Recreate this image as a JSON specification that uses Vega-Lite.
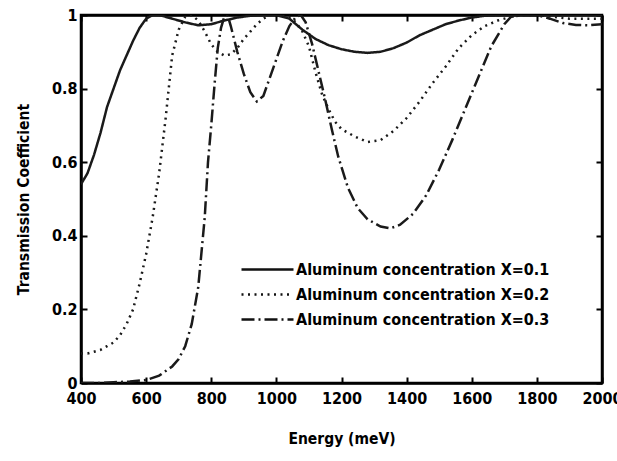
{
  "$schema": "https://vega.github.io/schema/vega-lite/v6.json",
  "width": 521,
  "height": 368,
  "autosize": "none",
  "padding": {"left": 81, "top": 15, "right": 15, "bottom": 78},
  "background": "white",
  "config": {
    "view": {"stroke": "black", "strokeWidth": 2.5},
    "font": "DejaVu Sans Condensed, Liberation Sans, sans-serif",
    "axis": {"grid": false, "domainColor": "black", "domainWidth": 2.5, "tickColor": "black", "tickWidth": 2, "tickSize": -6, "labelFont": "DejaVu Sans Condensed, Liberation Sans, sans-serif", "labelFontWeight": "bold", "labelFontSize": 16, "labelColor": "black", "labelFlush": false, "labelOverlap": false, "titleFont": "DejaVu Sans Condensed, Liberation Sans, sans-serif", "titleFontWeight": "bold", "titleFontSize": 15.5, "titleColor": "black"},
    "legend": {"labelFont": "DejaVu Sans Condensed, Liberation Sans, sans-serif"}
  },
  "data": {"values": [
    {"E":400,"T":0.54,"s":"Aluminum concentration X=0.1"},
    {"E":420,"T":0.57,"s":"Aluminum concentration X=0.1"},
    {"E":440,"T":0.62,"s":"Aluminum concentration X=0.1"},
    {"E":460,"T":0.68,"s":"Aluminum concentration X=0.1"},
    {"E":480,"T":0.75,"s":"Aluminum concentration X=0.1"},
    {"E":500,"T":0.8,"s":"Aluminum concentration X=0.1"},
    {"E":520,"T":0.85,"s":"Aluminum concentration X=0.1"},
    {"E":540,"T":0.89,"s":"Aluminum concentration X=0.1"},
    {"E":560,"T":0.93,"s":"Aluminum concentration X=0.1"},
    {"E":580,"T":0.965,"s":"Aluminum concentration X=0.1"},
    {"E":600,"T":0.99,"s":"Aluminum concentration X=0.1"},
    {"E":620,"T":1.0,"s":"Aluminum concentration X=0.1"},
    {"E":640,"T":1.0,"s":"Aluminum concentration X=0.1"},
    {"E":680,"T":0.99,"s":"Aluminum concentration X=0.1"},
    {"E":720,"T":0.98,"s":"Aluminum concentration X=0.1"},
    {"E":760,"T":0.972,"s":"Aluminum concentration X=0.1"},
    {"E":800,"T":0.975,"s":"Aluminum concentration X=0.1"},
    {"E":840,"T":0.985,"s":"Aluminum concentration X=0.1"},
    {"E":880,"T":0.993,"s":"Aluminum concentration X=0.1"},
    {"E":920,"T":0.998,"s":"Aluminum concentration X=0.1"},
    {"E":960,"T":1.0,"s":"Aluminum concentration X=0.1"},
    {"E":1000,"T":1.0,"s":"Aluminum concentration X=0.1"},
    {"E":1040,"T":0.99,"s":"Aluminum concentration X=0.1"},
    {"E":1080,"T":0.96,"s":"Aluminum concentration X=0.1"},
    {"E":1120,"T":0.935,"s":"Aluminum concentration X=0.1"},
    {"E":1160,"T":0.918,"s":"Aluminum concentration X=0.1"},
    {"E":1200,"T":0.907,"s":"Aluminum concentration X=0.1"},
    {"E":1240,"T":0.9,"s":"Aluminum concentration X=0.1"},
    {"E":1280,"T":0.897,"s":"Aluminum concentration X=0.1"},
    {"E":1320,"T":0.9,"s":"Aluminum concentration X=0.1"},
    {"E":1360,"T":0.91,"s":"Aluminum concentration X=0.1"},
    {"E":1400,"T":0.925,"s":"Aluminum concentration X=0.1"},
    {"E":1440,"T":0.945,"s":"Aluminum concentration X=0.1"},
    {"E":1480,"T":0.96,"s":"Aluminum concentration X=0.1"},
    {"E":1520,"T":0.975,"s":"Aluminum concentration X=0.1"},
    {"E":1560,"T":0.985,"s":"Aluminum concentration X=0.1"},
    {"E":1600,"T":0.993,"s":"Aluminum concentration X=0.1"},
    {"E":1640,"T":0.998,"s":"Aluminum concentration X=0.1"},
    {"E":1700,"T":1.0,"s":"Aluminum concentration X=0.1"},
    {"E":1800,"T":1.0,"s":"Aluminum concentration X=0.1"},
    {"E":1900,"T":1.0,"s":"Aluminum concentration X=0.1"},
    {"E":2000,"T":1.0,"s":"Aluminum concentration X=0.1"},

    {"E":400,"T":0.08,"s":"Aluminum concentration X=0.2"},
    {"E":420,"T":0.08,"s":"Aluminum concentration X=0.2"},
    {"E":440,"T":0.085,"s":"Aluminum concentration X=0.2"},
    {"E":460,"T":0.09,"s":"Aluminum concentration X=0.2"},
    {"E":480,"T":0.1,"s":"Aluminum concentration X=0.2"},
    {"E":500,"T":0.11,"s":"Aluminum concentration X=0.2"},
    {"E":520,"T":0.13,"s":"Aluminum concentration X=0.2"},
    {"E":540,"T":0.16,"s":"Aluminum concentration X=0.2"},
    {"E":560,"T":0.2,"s":"Aluminum concentration X=0.2"},
    {"E":580,"T":0.27,"s":"Aluminum concentration X=0.2"},
    {"E":600,"T":0.35,"s":"Aluminum concentration X=0.2"},
    {"E":620,"T":0.45,"s":"Aluminum concentration X=0.2"},
    {"E":640,"T":0.57,"s":"Aluminum concentration X=0.2"},
    {"E":660,"T":0.72,"s":"Aluminum concentration X=0.2"},
    {"E":680,"T":0.89,"s":"Aluminum concentration X=0.2"},
    {"E":700,"T":0.96,"s":"Aluminum concentration X=0.2"},
    {"E":720,"T":0.995,"s":"Aluminum concentration X=0.2"},
    {"E":740,"T":1.0,"s":"Aluminum concentration X=0.2"},
    {"E":760,"T":0.985,"s":"Aluminum concentration X=0.2"},
    {"E":780,"T":0.955,"s":"Aluminum concentration X=0.2"},
    {"E":800,"T":0.92,"s":"Aluminum concentration X=0.2"},
    {"E":820,"T":0.9,"s":"Aluminum concentration X=0.2"},
    {"E":840,"T":0.89,"s":"Aluminum concentration X=0.2"},
    {"E":860,"T":0.893,"s":"Aluminum concentration X=0.2"},
    {"E":880,"T":0.91,"s":"Aluminum concentration X=0.2"},
    {"E":900,"T":0.935,"s":"Aluminum concentration X=0.2"},
    {"E":920,"T":0.955,"s":"Aluminum concentration X=0.2"},
    {"E":940,"T":0.975,"s":"Aluminum concentration X=0.2"},
    {"E":960,"T":0.99,"s":"Aluminum concentration X=0.2"},
    {"E":980,"T":1.0,"s":"Aluminum concentration X=0.2"},
    {"E":1000,"T":1.0,"s":"Aluminum concentration X=0.2"},
    {"E":1040,"T":0.995,"s":"Aluminum concentration X=0.2"},
    {"E":1060,"T":0.98,"s":"Aluminum concentration X=0.2"},
    {"E":1080,"T":0.955,"s":"Aluminum concentration X=0.2"},
    {"E":1100,"T":0.915,"s":"Aluminum concentration X=0.2"},
    {"E":1120,"T":0.845,"s":"Aluminum concentration X=0.2"},
    {"E":1140,"T":0.785,"s":"Aluminum concentration X=0.2"},
    {"E":1160,"T":0.745,"s":"Aluminum concentration X=0.2"},
    {"E":1180,"T":0.71,"s":"Aluminum concentration X=0.2"},
    {"E":1200,"T":0.69,"s":"Aluminum concentration X=0.2"},
    {"E":1240,"T":0.67,"s":"Aluminum concentration X=0.2"},
    {"E":1280,"T":0.655,"s":"Aluminum concentration X=0.2"},
    {"E":1320,"T":0.66,"s":"Aluminum concentration X=0.2"},
    {"E":1360,"T":0.685,"s":"Aluminum concentration X=0.2"},
    {"E":1400,"T":0.72,"s":"Aluminum concentration X=0.2"},
    {"E":1440,"T":0.765,"s":"Aluminum concentration X=0.2"},
    {"E":1480,"T":0.815,"s":"Aluminum concentration X=0.2"},
    {"E":1520,"T":0.86,"s":"Aluminum concentration X=0.2"},
    {"E":1560,"T":0.91,"s":"Aluminum concentration X=0.2"},
    {"E":1600,"T":0.945,"s":"Aluminum concentration X=0.2"},
    {"E":1640,"T":0.97,"s":"Aluminum concentration X=0.2"},
    {"E":1680,"T":0.985,"s":"Aluminum concentration X=0.2"},
    {"E":1720,"T":0.995,"s":"Aluminum concentration X=0.2"},
    {"E":1760,"T":1.0,"s":"Aluminum concentration X=0.2"},
    {"E":1800,"T":1.0,"s":"Aluminum concentration X=0.2"},
    {"E":1850,"T":0.995,"s":"Aluminum concentration X=0.2"},
    {"E":1900,"T":0.99,"s":"Aluminum concentration X=0.2"},
    {"E":1950,"T":0.99,"s":"Aluminum concentration X=0.2"},
    {"E":2000,"T":0.99,"s":"Aluminum concentration X=0.2"},

    {"E":400,"T":0.0,"s":"Aluminum concentration X=0.3"},
    {"E":450,"T":0.0,"s":"Aluminum concentration X=0.3"},
    {"E":500,"T":0.002,"s":"Aluminum concentration X=0.3"},
    {"E":550,"T":0.004,"s":"Aluminum concentration X=0.3"},
    {"E":600,"T":0.008,"s":"Aluminum concentration X=0.3"},
    {"E":640,"T":0.02,"s":"Aluminum concentration X=0.3"},
    {"E":680,"T":0.045,"s":"Aluminum concentration X=0.3"},
    {"E":700,"T":0.065,"s":"Aluminum concentration X=0.3"},
    {"E":720,"T":0.1,"s":"Aluminum concentration X=0.3"},
    {"E":740,"T":0.16,"s":"Aluminum concentration X=0.3"},
    {"E":760,"T":0.26,"s":"Aluminum concentration X=0.3"},
    {"E":780,"T":0.45,"s":"Aluminum concentration X=0.3"},
    {"E":790,"T":0.6,"s":"Aluminum concentration X=0.3"},
    {"E":800,"T":0.7,"s":"Aluminum concentration X=0.3"},
    {"E":810,"T":0.81,"s":"Aluminum concentration X=0.3"},
    {"E":820,"T":0.91,"s":"Aluminum concentration X=0.3"},
    {"E":830,"T":0.965,"s":"Aluminum concentration X=0.3"},
    {"E":840,"T":0.995,"s":"Aluminum concentration X=0.3"},
    {"E":850,"T":1.0,"s":"Aluminum concentration X=0.3"},
    {"E":860,"T":0.97,"s":"Aluminum concentration X=0.3"},
    {"E":880,"T":0.9,"s":"Aluminum concentration X=0.3"},
    {"E":900,"T":0.84,"s":"Aluminum concentration X=0.3"},
    {"E":920,"T":0.79,"s":"Aluminum concentration X=0.3"},
    {"E":940,"T":0.765,"s":"Aluminum concentration X=0.3"},
    {"E":960,"T":0.78,"s":"Aluminum concentration X=0.3"},
    {"E":980,"T":0.83,"s":"Aluminum concentration X=0.3"},
    {"E":1000,"T":0.88,"s":"Aluminum concentration X=0.3"},
    {"E":1020,"T":0.93,"s":"Aluminum concentration X=0.3"},
    {"E":1040,"T":0.97,"s":"Aluminum concentration X=0.3"},
    {"E":1060,"T":0.995,"s":"Aluminum concentration X=0.3"},
    {"E":1075,"T":1.0,"s":"Aluminum concentration X=0.3"},
    {"E":1090,"T":0.98,"s":"Aluminum concentration X=0.3"},
    {"E":1110,"T":0.92,"s":"Aluminum concentration X=0.3"},
    {"E":1130,"T":0.845,"s":"Aluminum concentration X=0.3"},
    {"E":1150,"T":0.77,"s":"Aluminum concentration X=0.3"},
    {"E":1170,"T":0.69,"s":"Aluminum concentration X=0.3"},
    {"E":1190,"T":0.615,"s":"Aluminum concentration X=0.3"},
    {"E":1220,"T":0.53,"s":"Aluminum concentration X=0.3"},
    {"E":1250,"T":0.475,"s":"Aluminum concentration X=0.3"},
    {"E":1280,"T":0.445,"s":"Aluminum concentration X=0.3"},
    {"E":1320,"T":0.425,"s":"Aluminum concentration X=0.3"},
    {"E":1350,"T":0.42,"s":"Aluminum concentration X=0.3"},
    {"E":1380,"T":0.43,"s":"Aluminum concentration X=0.3"},
    {"E":1420,"T":0.46,"s":"Aluminum concentration X=0.3"},
    {"E":1460,"T":0.51,"s":"Aluminum concentration X=0.3"},
    {"E":1500,"T":0.58,"s":"Aluminum concentration X=0.3"},
    {"E":1540,"T":0.66,"s":"Aluminum concentration X=0.3"},
    {"E":1580,"T":0.745,"s":"Aluminum concentration X=0.3"},
    {"E":1620,"T":0.83,"s":"Aluminum concentration X=0.3"},
    {"E":1660,"T":0.915,"s":"Aluminum concentration X=0.3"},
    {"E":1700,"T":0.975,"s":"Aluminum concentration X=0.3"},
    {"E":1720,"T":0.995,"s":"Aluminum concentration X=0.3"},
    {"E":1760,"T":1.0,"s":"Aluminum concentration X=0.3"},
    {"E":1800,"T":1.0,"s":"Aluminum concentration X=0.3"},
    {"E":1840,"T":0.99,"s":"Aluminum concentration X=0.3"},
    {"E":1880,"T":0.978,"s":"Aluminum concentration X=0.3"},
    {"E":1920,"T":0.973,"s":"Aluminum concentration X=0.3"},
    {"E":1960,"T":0.972,"s":"Aluminum concentration X=0.3"},
    {"E":2000,"T":0.975,"s":"Aluminum concentration X=0.3"}
  ]},
  "layer": [
    {
      "mark": {"type": "line", "strokeWidth": 2.5, "clip": true, "color": "#1a1a1a"},
      "encoding": {
        "x": {"field": "E", "type": "quantitative", "scale": {"domain": [400, 2000], "nice": false}, "axis": {"title": "Energy (meV)", "format": "d", "values": [400,600,800,1000,1200,1400,1600,1800,2000], "labelPadding": 13, "titlePadding": 25}},
        "y": {"field": "T", "type": "quantitative", "scale": {"domain": [0, 1], "nice": false}, "axis": {"title": "Transmission Coefficient", "values": [0,0.2,0.4,0.6,0.8,1], "labelPadding": 10, "titlePadding": 20, "labelExpr": "datum.value == 0 ? '0' : datum.value == 1 ? '1' : datum.label"}},
        "strokeDash": {"field": "s", "type": "nominal", "scale": {"range": [[1,0],[2,4.5],[13,4,2,4]]}, "legend": {"title": null, "orient": "none", "legendX": 159, "legendY": 240, "symbolType": "M-1,0L3,0", "symbolSize": 676, "symbolStrokeWidth": 2.5, "symbolStrokeColor": "#111", "labelFontWeight": "bold", "labelFontSize": 16, "labelColor": "black", "labelOffset": 27, "labelLimit": 400, "rowPadding": 2}}
      }
    },
    {
      "mark": {"type": "line", "opacity": 0},
      "encoding": {
        "x": {"field": "E", "type": "quantitative", "axis": {"orient": "top", "labels": false, "title": null, "values": [400,600,800,1000,1200,1400,1600,1800,2000]}},
        "y": {"field": "T", "type": "quantitative", "axis": {"orient": "right", "labels": false, "title": null, "values": [0,0.2,0.4,0.6,0.8,1]}},
        "detail": {"field": "s"}
      }
    }
  ],
  "resolve": {"axis": {"x": "independent", "y": "independent"}}
}
